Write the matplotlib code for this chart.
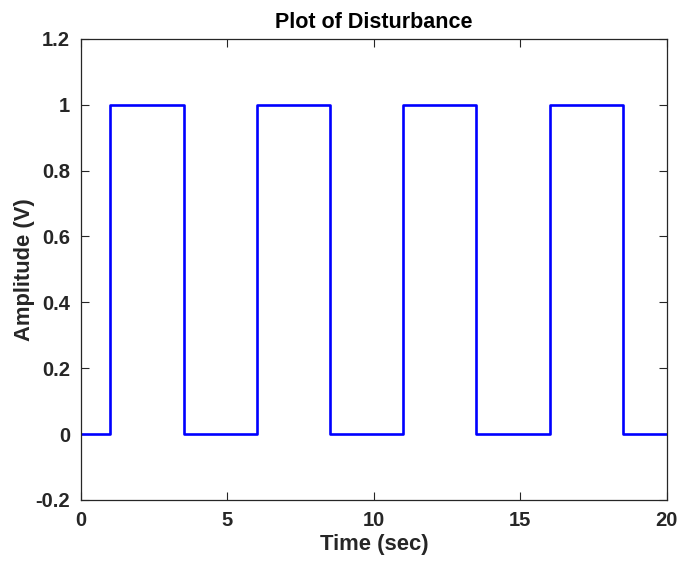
import matplotlib.pyplot as plt

# switching instants of the disturbance and the level held after each one
t_edges = [0, 1, 3.5, 6, 8.5, 11, 13.5, 16, 18.5, 20]
levels = [0, 1, 0, 1, 0, 1, 0, 1, 0, 0]

xticks = [0, 5, 10, 15, 20]
yticks = [-0.2, 0, 0.2, 0.4, 0.6, 0.8, 1, 1.2]
ytick_labels = ['-0.2', '0', '0.2', '0.4', '0.6', '0.8', '1', '1.2']

plt.rcParams['font.family'] = ['Liberation Sans', 'DejaVu Sans']
plt.rcParams['font.weight'] = 'bold'

fig = plt.figure(figsize=(6.81, 5.63), dpi=100)
ax = fig.add_axes([0.119, 0.112, 0.860, 0.819])

ax.plot(t_edges, levels, drawstyle='steps-post', color='#0000ff', lw=1.9)

ax.set_xlim(0, 20)
ax.set_ylim(-0.2, 1.2)
ax.set_xticks(xticks)
ax.set_yticks(yticks)
ax.set_yticklabels(ytick_labels)
ax.tick_params(direction='in', length=6, width=0.8, top=True, right=True,
               labelsize=14.5, colors='#262626', pad=8)
for s in ax.spines.values():
    s.set_linewidth(0.9)
    s.set_color('#262626')

ax.set_xlabel('Time (sec)', fontsize=15.8, fontweight='bold', color='#262626', labelpad=3)
ax.set_ylabel('Amplitude (V)', fontsize=15.8, fontweight='bold', color='#262626', labelpad=0)
ax.set_title('Plot of Disturbance', fontsize=15.5, fontweight='bold', pad=8)

fig.savefig('out.png', dpi=100)
